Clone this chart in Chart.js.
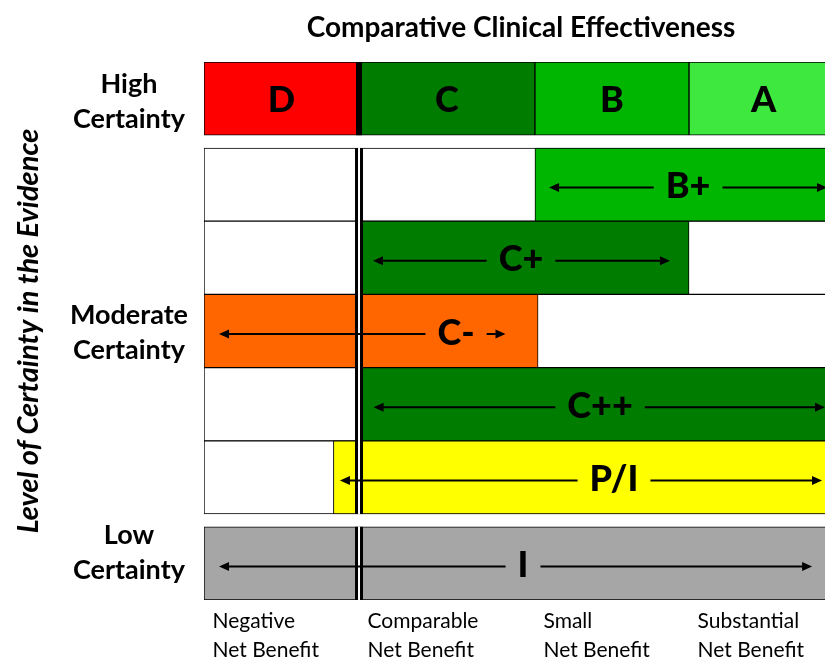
<!DOCTYPE html>
<html><head><meta charset="utf-8">
<script src="https://cdn.jsdelivr.net/npm/chart.js@4.4.1/dist/chart.umd.min.js"></script>
<style>html,body{margin:0;padding:0;overflow:hidden;background:#fff}</style>
</head><body>
<canvas id="c" width="840" height="662" style="width:840px;height:662px;display:block"></canvas>
<script>
// ---- x axis: comparative clinical effectiveness ----
const benefitLevels = [['Negative','Net Benefit'],['Comparable','Net Benefit'],['Small','Net Benefit'],['Substantial','Net Benefit']];
const benefitEdges = [0, 1, 2.135, 3.129, 4.09];
// ---- y axis: level of certainty ----
const certaintyLevels = [['High','Certainty'],['Moderate','Certainty'],['Low','Certainty']];
const certaintyLabelAt = [0.54, 3.70, 6.71];
// ---- high certainty row ----
const highRatings = ['D','C','B','A'];
const highColors = ['#FF0000','#007C00','#00B600','#3EE83E'];
const rowHigh = 0.5;
// ---- moderate certainty rows ----
const moderateRatings = ['B+','C+','C-','C++','P/I'];
const moderateFrom = [2.135, 1, 0, 1, 0.835];
const moderateTo = [4.09, 3.129, 2.155, 4.09, 4.09];
const moderateColors = ['#00B600','#007C00','#FF6600','#007C00','#FFFF00'];
const rowModerate = [1.675, 2.675, 3.675, 4.675, 5.675];
// ---- low certainty row ----
const lowRatings = ['I'];
const lowFrom = [0];
const lowTo = [4.09];
const lowColors = ['#A6A6A6'];
const rowLow = [6.85];
// ---- arrows and rating labels (moderate rows then low row) ----
const arrowFrom = [2.226, 1.090, 0.097, 1.094, 0.877, 0.097];
const arrowTo = [4.019, 3.006, 1.945, 4.006, 3.987, 3.923];
const ratingLabelAt = [3.123, 2.045, 1.626, 2.555, 2.645, 2.058];

const FONT = 'Lato';

const cellData = [], cellColors = [];
highRatings.forEach((r, i) => { cellData.push({y: rowHigh, x: [benefitEdges[i], benefitEdges[i+1]]}); cellColors.push(highColors[i]); });
moderateRatings.forEach((r, i) => { cellData.push({y: rowModerate[i], x: [moderateFrom[i], moderateTo[i]]}); cellColors.push(moderateColors[i]); });
lowRatings.forEach((r, i) => { cellData.push({y: rowLow[i], x: [lowFrom[i], lowTo[i]]}); cellColors.push(lowColors[i]); });
const bgData = rowModerate.map(v => ({y: v, x: [benefitEdges[0], benefitEdges[4]]}));

const overlay = {
  id: 'overlay',
  afterDatasetsDraw(chart) {
    const {ctx, scales: {x, y}} = chart;
    ctx.save();
    const xd = x.getPixelForValue(benefitEdges[1]);
    // high row thick separator
    const hT = y.getPixelForValue(rowHigh - 0.5), hB = y.getPixelForValue(rowHigh + 0.5);
    ctx.fillStyle = '#000';
    ctx.fillRect(xd - 3, hT, 6, hB - hT);
    // double lines
    const blocks = [[rowModerate[0] - 0.5, rowModerate[rowModerate.length-1] + 0.5], [rowLow[0] - 0.5, rowLow[0] + 0.5]];
    blocks.forEach(([a, b]) => {
      const t = y.getPixelForValue(a), bt = y.getPixelForValue(b);
      ctx.fillStyle = '#fff'; ctx.fillRect(xd - 1, t, 2, bt - t);
      ctx.fillStyle = '#000'; ctx.fillRect(xd - 4, t, 3, bt - t); ctx.fillRect(xd + 1, t, 3, bt - t);
    });
    // high row letters
    ctx.font = `900 36px ${FONT}`;
    ctx.textAlign = 'center'; ctx.textBaseline = 'middle'; ctx.fillStyle = '#000';
    const hc = y.getPixelForValue(rowHigh);
    highRatings.forEach((r, i) => {
      const cx = (x.getPixelForValue(benefitEdges[i]) + x.getPixelForValue(benefitEdges[i+1])) / 2;
      ctx.fillText(r, cx, hc + 2);
    });
    // arrows
    const labels = moderateRatings.concat(lowRatings);
    const rows = rowModerate.concat(rowLow);
    labels.forEach((r, i) => {
      const cy = y.getPixelForValue(rows[i]);
      const lx = x.getPixelForValue(ratingLabelAt[i]);
      const w = ctx.measureText(r).width;
      ctx.fillStyle = '#000';
      ctx.fillText(r, lx, cy + 2);
      const ax = x.getPixelForValue(arrowFrom[i]), bx = x.getPixelForValue(arrowTo[i]);
      const ly = cy + 3;
      ctx.strokeStyle = '#000'; ctx.lineWidth = 2;
      ctx.beginPath();
      ctx.moveTo(ax + 9, ly); ctx.lineTo(lx - w / 2 - 12, ly);
      ctx.moveTo(lx + w / 2 + 12, ly); ctx.lineTo(bx - 9, ly);
      ctx.stroke();
      ctx.beginPath();
      ctx.moveTo(ax, ly); ctx.lineTo(ax + 10, ly - 4.5); ctx.lineTo(ax + 10, ly + 4.5); ctx.closePath();
      ctx.moveTo(bx, ly); ctx.lineTo(bx - 10, ly - 4.5); ctx.lineTo(bx - 10, ly + 4.5); ctx.closePath();
      ctx.fill();
    });
    ctx.restore();
  }
};

new Chart(document.getElementById('c'), {
  type: 'bar',
  data: {
    datasets: [
      {label: 'ratings', data: cellData, backgroundColor: cellColors, order: 0},
      {label: 'grid', data: bgData, backgroundColor: '#FFFFFF', order: 1}
    ]
  },
  options: {
    indexAxis: 'y',
    responsive: false,
    animation: false,
    layout: {padding: {left: 0, right: 2, top: 0, bottom: 0}},
    datasets: {bar: {grouped: false, barPercentage: 1, categoryPercentage: 1, borderColor: '#000', borderWidth: 1, borderSkipped: false}},
    plugins: {legend: {display: false}, tooltip: {enabled: false}},
    scales: {
      x: {
        type: 'linear', position: 'bottom', min: 0, max: benefitEdges[4], offset: false,
        grid: {display: false, drawTicks: false}, border: {display: false},
        afterBuildTicks: s => { s.ticks = benefitEdges.slice(0, 4).map(v => ({value: v + 0.055})); },
        afterFit: s => { s.height = 62; },
        ticks: {align: 'start', autoSkip: false, maxRotation: 0, padding: 7, color: '#000',
          font: {family: FONT, size: 21, lineHeight: 1.38},
          callback: (v, i) => benefitLevels[i]}
      },
      x2: {
        type: 'linear', position: 'top', display: true, min: 0, max: benefitEdges[4], offset: false,
        grid: {display: false, drawTicks: false}, border: {display: false},
        ticks: {display: false},
        afterFit: s => { s.height = 62; },
        title: {display: true, text: 'Comparative Clinical Effectiveness', color: '#000',
          font: {family: FONT, size: 28, weight: 'bold', lineHeight: 1.2}, padding: {top: 11, bottom: 0}}
      },
      y: {
        type: 'linear', reverse: true, min: 0, max: 7.35, offset: false,
        grid: {display: false, drawTicks: false, offset: false}, border: {display: false},
        afterBuildTicks: s => { s.ticks = certaintyLabelAt.map(v => ({value: v})); },
        afterFit: s => { s.width = 204; },
        ticks: {crossAlign: 'center', autoSkip: false, padding: 16, color: '#000',
          font: {family: FONT, size: 27, weight: 'bold', lineHeight: 1.3},
          callback: (v, i) => certaintyLevels[i]},
        title: {display: true, text: 'Level of Certainty in the Evidence', color: '#000',
          font: {family: FONT, size: 29, weight: 'bold', style: 'italic', lineHeight: 1.2}, padding: {top: 11, bottom: 0}}
      }
    }
  },
  plugins: [overlay]
});
</script>
</body></html>
